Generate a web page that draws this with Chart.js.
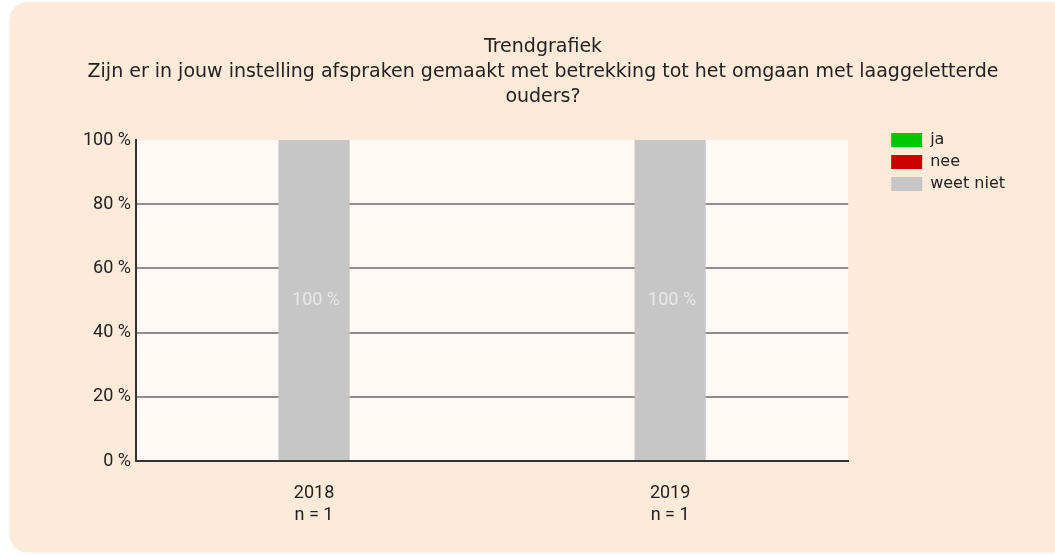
<!DOCTYPE html>
<html>
<head>
<meta charset="utf-8">
<script src="https://cdn.jsdelivr.net/npm/chart.js@4"></script>
<style>
	body { margin: 0; background: #fff; }
	#panel {
		position: absolute; left: 10px; top: 2px; width: 1070px; height: 549px;
		background: #fdead9; border-radius: 18px;
		box-shadow: 0 1px 3px rgba(200, 170, 150, 0.35);
	}
	#trend { position: absolute; left: 0; top: 0; }
</style>
</head>
<body>
<div id="panel"></div>
<canvas id="trend" width="1055" height="556"></canvas>
<script>
const titleLines = [
	'Trendgrafiek',
	'Zijn er in jouw instelling afspraken gemaakt met betrekking tot het omgaan met laaggeletterde',
	'ouders?',
];
const years = ['2018', '2019'];
const counts = ['n = 1', 'n = 1'];
const answers = ['ja', 'nee', 'weet niet'];
const colors = ['#00c800', '#cc0000', '#c6c6c6'];
const jaValues = [0, 0];
const neeValues = [0, 0];
const weetNietValues = [100, 100];
const yTicks = [0, 20, 40, 60, 80, 100];

// plot area background
const plotBg = {
	id: 'plotBg',
	beforeDraw(chart) {
		const { ctx, chartArea: a } = chart;
		ctx.save();
		ctx.fillStyle = '#fef9f4';
		ctx.fillRect(a.left, a.top, a.right - a.left, a.bottom - a.top);
		ctx.restore();
	},
};

// "100 %" labels inside the bars
const barLabels = {
	id: 'barLabels',
	afterDatasetsDraw(chart) {
		const { ctx } = chart;
		ctx.save();
		ctx.font = '18px Roboto';
		ctx.fillStyle = '#e8e8e8';
		ctx.textAlign = 'center';
		ctx.textBaseline = 'middle';
		chart.data.datasets.forEach((ds, di) => {
			chart.getDatasetMeta(di).data.forEach((bar, i) => {
				const v = ds.data[i];
				if (!v) return;
				const p = bar.getProps(['x', 'y', 'base'], true);
				ctx.fillText(v + ' %', p.x + 2, (p.y + p.base) / 2);
			});
		});
		ctx.restore();
	},
};

const values = [jaValues, neeValues, weetNietValues];

new Chart(document.getElementById('trend').getContext('2d'), {
	type: 'bar',
	data: {
		labels: years.map((y, i) => [y, counts[i]]),
		datasets: answers.map((a, i) => ({
			label: a,
			data: values[i],
			backgroundColor: colors[i],
			borderWidth: 0,
			categoryPercentage: 1,
			barPercentage: 0.2,
		})),
	},
	options: {
		responsive: false,
		animation: false,
		// left/right padding also centres the title over the panel
		layout: { padding: { left: 71, top: 0, right: 40, bottom: 9 } },
		plugins: {
			tooltip: { enabled: false },
			title: {
				display: true,
				text: titleLines,
				color: '#222',
				font: { family: 'DejaVu Sans', size: 19, weight: 'normal', lineHeight: 25 / 19 },
				padding: { top: 35, bottom: 30 },
			},
			legend: {
				position: 'right',
				align: 'start',
				title: { display: true, text: '', font: { size: 10, lineHeight: 1 }, padding: { top: 116, bottom: 0 } },
				labels: {
					boxWidth: 31,
					boxHeight: 14,
					padding: 6,
					color: '#222',
					font: { family: 'DejaVu Sans', size: 16, lineHeight: 1.2 },
				},
			},
		},
		scales: {
			x: {
				stacked: true,
				grid: { display: false, drawTicks: false },
				border: { display: true, color: '#333', width: 2 },
				ticks: {
					color: '#222',
					padding: 21,
					font: { family: 'Roboto', size: 18, lineHeight: 1.22 },
				},
			},
			y: {
				stacked: true,
				min: 0,
				max: 100,
				afterFit: (s) => { s.width = 65; },
				afterBuildTicks: (s) => { s.ticks = yTicks.map((v) => ({ value: v })); },
				grid: {
					drawTicks: false,
					lineWidth: 2,
					color: (c) => (c.tick && c.tick.value === 100 ? 'rgba(0,0,0,0)' : '#8e8e8e'),
				},
				border: { display: true, color: '#333', width: 2 },
				ticks: {
					color: '#222',
					padding: 5,
					font: { family: 'Roboto', size: 18 },
					callback: (v) => v + ' %',
				},
			},
			yRight: {
				type: 'linear',
				position: 'right',
				afterFit: (s) => { s.width = 37; },
				grid: { display: false, drawTicks: false },
				border: { display: false },
				ticks: { display: false },
			},
		},
	},
	plugins: [plotBg, barLabels],
});
</script>
</body>
</html>
